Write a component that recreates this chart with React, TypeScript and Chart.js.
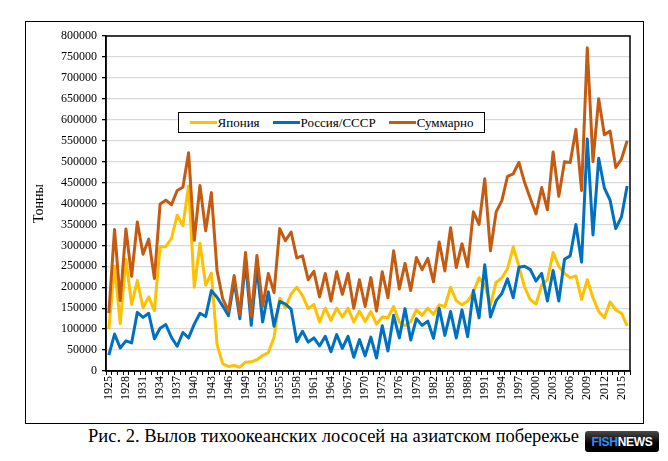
import { useEffect, useRef } from "react";
import { Chart, registerables } from "chart.js";

Chart.register(...registerables);

// years 1925..2016
const years = [
  "1925", "1926", "1927", "1928", "1929", "1930", "1931", "1932", "1933", "1934",
  "1935", "1936", "1937", "1938", "1939", "1940", "1941", "1942", "1943", "1944",
  "1945", "1946", "1947", "1948", "1949", "1950", "1951", "1952", "1953", "1954",
  "1955", "1956", "1957", "1958", "1959", "1960", "1961", "1962", "1963", "1964",
  "1965", "1966", "1967", "1968", "1969", "1970", "1971", "1972", "1973", "1974",
  "1975", "1976", "1977", "1978", "1979", "1980", "1981", "1982", "1983", "1984",
  "1985", "1986", "1987", "1988", "1989", "1990", "1991", "1992", "1993", "1994",
  "1995", "1996", "1997", "1998", "1999", "2000", "2001", "2002", "2003", "2004",
  "2005", "2006", "2007", "2008", "2009", "2010", "2011", "2012", "2013", "2014",
  "2015", "2016",
];

const japan = [
  100000, 250000, 113000, 267000, 159000, 216000, 151000, 177000, 144000, 297000,
  297000, 317000, 372000, 347000, 442000, 200000, 305000, 205000, 234000, 63000,
  17000, 11000, 13000, 9000, 21000, 22000, 27000, 37000, 44000, 80000,
  174000, 151000, 184000, 200000, 180000, 149000, 159000, 117000, 150000, 121000,
  150000, 129000, 150000, 117000, 143000, 118000, 142000, 112000, 129000, 127000,
  154000, 117000, 108000, 118000, 146000, 133000, 150000, 135000, 158000, 154000,
  200000, 168000, 158000, 167000, 188000, 223000, 205000, 158000, 212000, 222000,
  245000, 296000, 250000, 200000, 170000, 160000, 205000, 218000, 283000, 250000,
  233000, 223000, 227000, 171000, 218000, 175000, 142000, 127000, 165000, 146000,
  138000, 108000,
];

const russia = [
  38000, 88000, 55000, 72000, 67000, 140000, 128000, 138000, 77000, 102000,
  111000, 80000, 59000, 92000, 79000, 112000, 138000, 130000, 192000, 176000,
  155000, 132000, 215000, 125000, 262000, 109000, 249000, 117000, 189000, 107000,
  166000, 160000, 148000, 70000, 95000, 69000, 79000, 60000, 83000, 46000,
  87000, 54000, 83000, 33000, 75000, 36000, 81000, 31000, 108000, 48000,
  133000, 79000, 149000, 74000, 125000, 109000, 119000, 78000, 150000, 85000,
  142000, 79000, 146000, 82000, 192000, 127000, 254000, 129000, 168000, 185000,
  220000, 175000, 248000, 250000, 242000, 215000, 233000, 167000, 240000, 167000,
  267000, 275000, 350000, 260000, 554000, 325000, 508000, 437000, 408000, 340000,
  368000, 442000,
];

const total = [
  138000, 338000, 168000, 339000, 226000, 356000, 279000, 315000, 221000, 399000,
  408000, 397000, 431000, 439000, 521000, 312000, 443000, 335000, 426000, 239000,
  172000, 143000, 228000, 134000, 283000, 131000, 276000, 154000, 233000, 187000,
  340000, 311000, 332000, 270000, 275000, 218000, 238000, 177000, 233000, 167000,
  237000, 183000, 233000, 150000, 218000, 154000, 223000, 143000, 237000, 175000,
  287000, 196000, 257000, 192000, 271000, 242000, 269000, 213000, 308000, 239000,
  342000, 247000, 304000, 249000, 380000, 350000, 459000, 287000, 380000, 407000,
  465000, 471000, 498000, 450000, 412000, 375000, 438000, 385000, 523000, 417000,
  500000, 498000, 577000, 431000, 772000, 500000, 650000, 564000, 573000, 486000,
  506000, 550000,
];

const seriesNames = ["Япония", "Россия/СССР", "Суммарно"];
const seriesColors = ["#FFC000", "#0070C0", "#C55A11"];

const yTitle = "Тонны";
const caption = "Рис. 2. Вылов тихоокеанских лососей на азиатском побережье";

const serif = "'Liberation Serif', 'Times New Roman', serif";

// black frame round the plot area
const plotFrame = {
  id: "plotFrame",
  afterDatasetsDraw(chart: Chart) {
    const { ctx, chartArea } = chart;
    ctx.save();
    ctx.strokeStyle = "#000";
    ctx.lineWidth = 1.5;
    ctx.strokeRect(chartArea.left, chartArea.top, chartArea.right - chartArea.left, chartArea.bottom - chartArea.top);
    ctx.restore();
  },
};

const SalmonChart = () => {
  const canvasRef = useRef<HTMLCanvasElement | null>(null);

  useEffect(() => {
    if (!canvasRef.current) return;
    const ctx = canvasRef.current.getContext("2d");
    if (!ctx) return;

    const values = [japan, russia, total];

    const chart = new Chart(ctx, {
      type: "line",
      data: {
        labels: years,
        datasets: values.map((data, i) => ({
          label: seriesNames[i],
          data,
          borderColor: seriesColors[i],
          backgroundColor: seriesColors[i],
          borderWidth: 3,
          borderJoinStyle: "round" as const,
          pointRadius: 0,
          tension: 0,
          order: 2 - i,
        })),
      },
      options: {
        responsive: false,
        animation: false,
        layout: { padding: { left: 0, top: 14, right: 13, bottom: 0 } },
        plugins: {
          legend: { display: false },
          tooltip: { enabled: false },
        },
        scales: {
          x: {
            offset: true,
            afterFit: (scale) => {
              scale.height = 52;
            },
            grid: {
              offset: true,
              drawOnChartArea: false,
              tickColor: "#000",
              tickLength: 4,
              tickWidth: 1,
            },
            border: { color: "#000", width: 1.5 },
            ticks: {
              autoSkip: false,
              minRotation: 90,
              maxRotation: 90,
              padding: 1,
              color: "#000",
              font: { family: serif, size: 12 },
              callback: (_v, i) => (i % 3 === 0 ? years[i] : ""),
            },
          },
          y: {
            min: 0,
            max: 800000,
            afterFit: (scale) => {
              scale.width = 80;
            },
            grid: {
              color: "#D9D9D9",
              lineWidth: 1.3,
              tickColor: "#000",
              tickLength: 4,
            },
            border: { color: "#000", width: 1.5 },
            ticks: {
              stepSize: 50000,
              padding: 5,
              color: "#000",
              font: { family: serif, size: 12 },
              callback: (v) => String(v),
            },
            title: {
              display: true,
              text: yTitle,
              color: "#000",
              font: { family: serif, size: 14 },
              padding: { top: 5, bottom: 0 },
            },
          },
        },
      },
      plugins: [plotFrame],
    });

    return () => {
      chart.destroy();
    };
  }, []);

  return (
    <canvas
      ref={canvasRef}
      width={617}
      height={401}
      style={{ position: "absolute", left: 26, top: 22, width: 617, height: 401 }}
    />
  );
};

const Legend = () => (
  <div
    style={{
      position: "absolute",
      left: 178,
      top: 112,
      width: 307,
      height: 21,
      boxSizing: "border-box",
      border: "1.5px solid #000",
      background: "#fff",
      display: "flex",
      alignItems: "center",
      justifyContent: "center",
      gap: 13,
      fontFamily: serif,
      fontSize: 13,
      color: "#000",
    }}
  >
    {seriesNames.map((name, i) => (
      <div key={name} style={{ display: "flex", alignItems: "center" }}>
        <span style={{ display: "inline-block", width: 27, height: 3, background: seriesColors[i], marginRight: 1 }} />
        <span>{name}</span>
      </div>
    ))}
  </div>
);

export default function App() {
  return (
    <div
      style={{
        position: "absolute",
        left: 0,
        top: 0,
        width: 668,
        height: 461,
        background: "#fff",
        overflow: "hidden",
      }}
    >
      <div
        style={{
          position: "absolute",
          left: 25,
          top: 21,
          width: 619,
          height: 403,
          boxSizing: "border-box",
          border: "1.5px solid #000",
        }}
      />
      <SalmonChart />
      <Legend />
      <div
        style={{
          position: "absolute",
          left: 88,
          top: 425,
          fontFamily: serif,
          fontSize: 18.5,
          lineHeight: "22px",
          color: "#000",
          whiteSpace: "nowrap",
        }}
      >
        {caption}
      </div>
      <div
        style={{
          position: "absolute",
          left: 585,
          top: 431,
          width: 74,
          height: 21,
          borderRadius: 3,
          background: "linear-gradient(#4a4a4a, #000 60%)",
          display: "flex",
          alignItems: "center",
          justifyContent: "center",
          fontFamily: "'Liberation Sans', Arial, sans-serif",
          fontWeight: "bold",
          fontSize: 12,
          letterSpacing: -0.3,
        }}
      >
        <span style={{ color: "#2f8fff" }}>FISH</span>
        <span style={{ color: "#fff" }}>NEWS</span>
      </div>
    </div>
  );
}
